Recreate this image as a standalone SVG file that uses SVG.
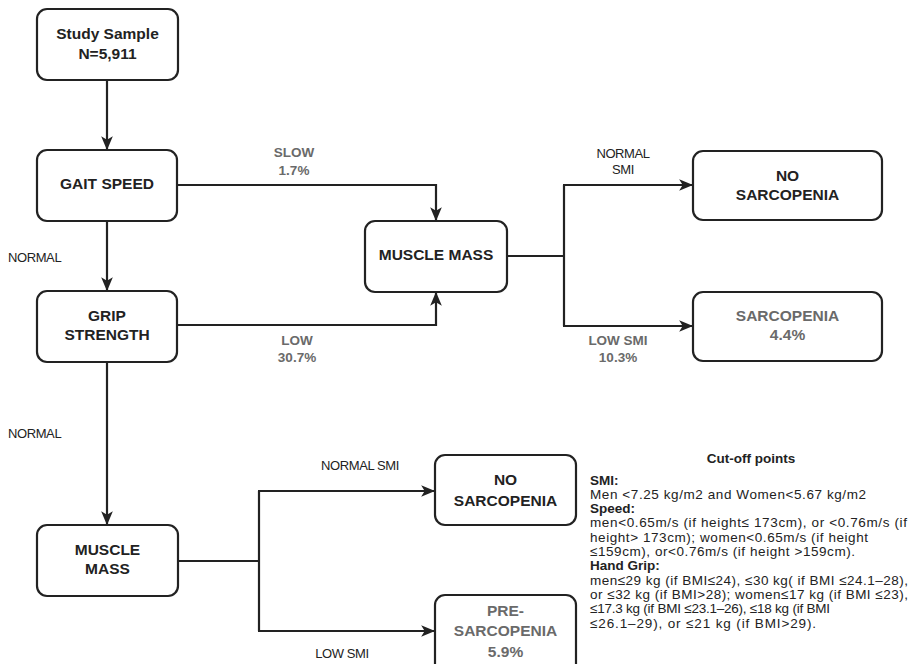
<svg xmlns="http://www.w3.org/2000/svg" width="911" height="664" viewBox="0 0 911 664">
<style>
.box{fill:#fff;stroke:#222;stroke-width:2.2}
.nt{font-family:"Liberation Sans",Arial,sans-serif;font-weight:bold;font-size:15.5px;fill:#222;text-anchor:middle}
.gt{font-family:"Liberation Sans",Arial,sans-serif;font-weight:bold;font-size:15.5px;fill:#6a6a6a;text-anchor:middle}
.lg{font-family:"Liberation Sans",Arial,sans-serif;font-weight:bold;font-size:13.5px;fill:#6a6a6a;text-anchor:middle}
.lr{font-family:"Liberation Sans",Arial,sans-serif;font-size:13px;fill:#222;letter-spacing:-0.4px}
.ln{fill:none;stroke:#222;stroke-width:2.2}
.ct{font-family:"Liberation Sans",Arial,sans-serif;font-size:13.5px;fill:#222}
.cb{font-family:"Liberation Sans",Arial,sans-serif;font-size:13.5px;font-weight:bold;fill:#222}
</style>
<defs>
<marker id="ah" markerUnits="userSpaceOnUse" markerWidth="14" markerHeight="14" viewBox="0 0 12 12" refX="11" refY="6" orient="auto">
<path d="M0,1 L12,6 L0,11 L3,6 Z" fill="#222"/>
</marker>
</defs>
<rect width="911" height="664" fill="#fff"/>
<g id="connectors">
<path class="ln" d="M107,80 V149" marker-end="url(#ah)"/>
<path class="ln" d="M107,221 V290" marker-end="url(#ah)"/>
<path class="ln" d="M107,362 V524" marker-end="url(#ah)"/>
<path class="ln" d="M177,185 H436 V220" marker-end="url(#ah)"/>
<path class="ln" d="M177,325 H436 V293" marker-end="url(#ah)"/>
<path class="ln" d="M507,256 H564"/>
<path class="ln" d="M564,185 V326"/>
<path class="ln" d="M563,185 H692" marker-end="url(#ah)"/>
<path class="ln" d="M563,326 H692" marker-end="url(#ah)"/>
<path class="ln" d="M178,561 H259"/>
<path class="ln" d="M259,491 V631"/>
<path class="ln" d="M258,491 H434" marker-end="url(#ah)"/>
<path class="ln" d="M258,631 H434" marker-end="url(#ah)"/>
</g>
<g id="labels">
<text class="lg" x="294" y="157">SLOW</text>
<text class="lg" x="294" y="175">1.7%</text>
<text class="lg" x="297" y="345">LOW</text>
<text class="lg" x="297" y="362">30.7%</text>
<text class="lr" x="623" y="158" text-anchor="middle">NORMAL</text>
<text class="lr" x="623" y="174" text-anchor="middle">SMI</text>
<text class="lg" x="618" y="345">LOW SMI</text>
<text class="lg" x="618" y="362">10.3%</text>
<text class="lr" x="8" y="262">NORMAL</text>
<text class="lr" x="8" y="438">NORMAL</text>
<text class="lr" x="360" y="470" text-anchor="middle">NORMAL SMI</text>
<text class="lr" x="342" y="658" text-anchor="middle">LOW SMI</text>
</g>
<g id="study-sample">
<rect class="box" x="37" y="9" width="141" height="71" rx="10"/>
<text class="nt" x="107.5" y="39">Study Sample</text>
<text class="nt" x="107.5" y="59">N=5,911</text>
</g>
<g id="gait-speed">
<rect class="box" x="37" y="150" width="140" height="71" rx="10"/>
<text class="nt" x="107" y="189">GAIT SPEED</text>
</g>
<g id="grip-strength">
<rect class="box" x="37" y="291" width="140" height="71" rx="10"/>
<text class="nt" x="107" y="321">GRIP</text>
<text class="nt" x="107" y="340">STRENGTH</text>
</g>
<g id="muscle-mass-1">
<rect class="box" x="365" y="221" width="142" height="71" rx="10"/>
<text class="nt" x="436" y="260">MUSCLE MASS</text>
</g>
<g id="no-sarcopenia-1">
<rect class="box" x="693" y="151" width="189" height="69" rx="10"/>
<text class="nt" x="787.5" y="181">NO</text>
<text class="nt" x="787.5" y="200">SARCOPENIA</text>
</g>
<g id="sarcopenia">
<rect class="box" x="693" y="292" width="189" height="69" rx="10"/>
<text class="gt" x="787.5" y="321">SARCOPENIA</text>
<text class="gt" x="787.5" y="340">4.4%</text>
</g>
<g id="muscle-mass-2">
<rect class="box" x="37" y="525" width="141" height="71" rx="10"/>
<text class="nt" x="107.5" y="555">MUSCLE</text>
<text class="nt" x="107.5" y="574">MASS</text>
</g>
<g id="no-sarcopenia-2">
<rect class="box" x="435" y="455" width="141" height="70" rx="10"/>
<text class="nt" x="505.5" y="485">NO</text>
<text class="nt" x="505.5" y="506">SARCOPENIA</text>
</g>
<g id="pre-sarcopenia">
<rect class="box" x="435" y="595" width="141" height="80" rx="10"/>
<text class="gt" x="505.5" y="616">PRE-</text>
<text class="gt" x="505.5" y="636">SARCOPENIA</text>
<text class="gt" x="505.5" y="657">5.9%</text>
</g>
<g id="cutoff-points">
<text class="cb" x="751" y="463" text-anchor="middle">Cut-off points</text>
<text class="cb" x="590" y="485">SMI:</text>
<text class="ct" x="590" y="499" textLength="276" lengthAdjust="spacing">Men  &lt;7.25 kg/m2 and Women&lt;5.67 kg/m2</text>
<text class="cb" x="590" y="513">Speed:</text>
<text class="ct" x="590" y="527" textLength="317" lengthAdjust="spacing">men&lt;0.65m/s (if height≤ 173cm), or &lt;0.76m/s (if</text>
<text class="ct" x="590" y="542" textLength="278" lengthAdjust="spacing">height&gt; 173cm);  women&lt;0.65m/s (if height</text>
<text class="ct" x="590" y="556" textLength="265" lengthAdjust="spacing">≤159cm), or&lt;0.76m/s (if height &gt;159cm).</text>
<text class="cb" x="590" y="570">Hand Grip:</text>
<text class="ct" x="590" y="585" textLength="318" lengthAdjust="spacing">men≤29 kg (if BMI≤24), ≤30 kg( if BMI ≤24.1–28),</text>
<text class="ct" x="590" y="599" textLength="318" lengthAdjust="spacing">or ≤32 kg (if BMI&gt;28); women≤17 kg (if BMI ≤23),</text>
<text class="ct" x="590" y="613" textLength="240" lengthAdjust="spacing">≤17.3 kg (if BMI ≤23.1–26), ≤18 kg (if BMI</text>
<text class="ct" x="590" y="628" textLength="226" lengthAdjust="spacing">≤26.1–29), or ≤21 kg (if BMI&gt;29).</text>
</g>
</svg>
